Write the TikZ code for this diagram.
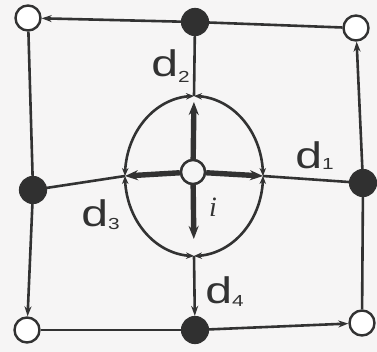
\documentclass[tikz,border=0pt]{standalone}
\usepackage{fontspec}
\setmainfont{Liberation Sans}
\newfontfamily\serifi{Liberation Serif}
\usetikzlibrary{arrows.meta,bending}
\definecolor{ink}{RGB}{50,50,50}
\definecolor{dot}{RGB}{48,48,48}
\definecolor{paper}{RGB}{246,245,245}
\tikzset{
  opennode/.style={circle,draw=ink,line width=2.4pt,fill=white,minimum size=25pt,inner sep=0pt},
  fullnode/.style={circle,draw=ink,line width=1.2pt,fill=dot,minimum size=27pt,inner sep=0pt},
  centernode/.style={circle,draw=ink,line width=2.4pt,fill=white!92!gray,minimum size=24pt,inner sep=0pt},
  thinline/.style={draw=ink,line width=2.6pt},
  thinarrow/.style={thinline,-{Stealth[length=10pt,width=7pt]}},
  thickarrow/.style={draw=ink,line width=5.4pt,-{Stealth[length=13pt,width=10pt]}},
  arcarrow/.style={draw=ink,line width=2.6pt,{Stealth[length=8pt,width=6.5pt,flex]}-{Stealth[length=8pt,width=6.5pt,flex]}},
  lab/.style={anchor=base west,inner sep=0pt,xscale=1.3,text=ink}
}
\begin{document}
\begin{tikzpicture}[x=1pt,y=-1pt]
\fill[paper] (0,0) rectangle (377,352);
\useasboundingbox (0,0) rectangle (377,352);
% ellipse points
\coordinate (et) at (194,96);
\coordinate (er) at (263,176);
\coordinate (eb) at (194,256);
\coordinate (el) at (125,176);
% nodes
\node[opennode] (TL) at (28,18) {};
\node[fullnode] (T) at (195,22) {};
\node[opennode] (TR) at (356,28) {};
\node[fullnode] (L) at (33,190) {};
\node[fullnode] (R) at (363,183) {};
\node[opennode] (BL) at (27,330) {};
\node[fullnode] (B) at (195,330) {};
\node[opennode] (BR) at (362,323) {};
% ellipse arcs
\draw[arcarrow] (et) arc[start angle=90,end angle=0,x radius=69pt,y radius=80pt];
\draw[arcarrow] (er) arc[start angle=0,end angle=-90,x radius=69pt,y radius=80pt];
\draw[arcarrow] (eb) arc[start angle=270,end angle=180,x radius=69pt,y radius=80pt];
\draw[arcarrow] (el) arc[start angle=180,end angle=90,x radius=69pt,y radius=80pt];
% outer connectors
\draw[thinarrow] (T) -- (TL);
\draw[thinline] (T) -- (TR);
\draw[thinarrow] (R) -- (TR);
\draw[thinline] (L) -- (TL);
\draw[thinarrow] (L) -- (BL);
\draw[thinline] (B) -- (BL);
\draw[thinarrow] (B) -- (BR);
\draw[thinline] (R) -- (BR);
% spokes to ellipse
\draw[thinline] (T) -- (et);
\draw[thinline] (L) -- (el);
\draw[thinline] (R) -- (er);
\draw[thinarrow] (eb) -- (B);
% center
\node[centernode] (C) at (193,172) {};
\draw[thickarrow,shorten >=6pt] (C) -- (et);
\draw[thickarrow] (C) -- (er);
\draw[thickarrow] (C) -- (el);
\draw[thickarrow,shorten >=17pt] (C) -- (eb);
\node[centernode] at (C) {};
% labels
\node[lab] (d2) at (151,77) {\fontsize{37}{37}\selectfont d\raisebox{-6pt}{\fontsize{16}{16}\selectfont 2}};
\node[lab] (d1) at (295,169) {\fontsize{37}{37}\selectfont d\raisebox{-1pt}{\fontsize{16}{16}\selectfont 1}};
\node[lab] (d3) at (81,227) {\fontsize{37}{37}\selectfont d\raisebox{-3pt}{\fontsize{16}{16}\selectfont 3}};
\node[lab] (d4) at (205,304) {\fontsize{37}{37}\selectfont d\raisebox{-2pt}{\fontsize{16}{16}\selectfont 4}};
\node[anchor=base,inner sep=0pt,text=ink] (ilab) at (213,217) {\serifi\itshape\fontsize{28}{28}\selectfont i};
\end{tikzpicture}
\end{document}
